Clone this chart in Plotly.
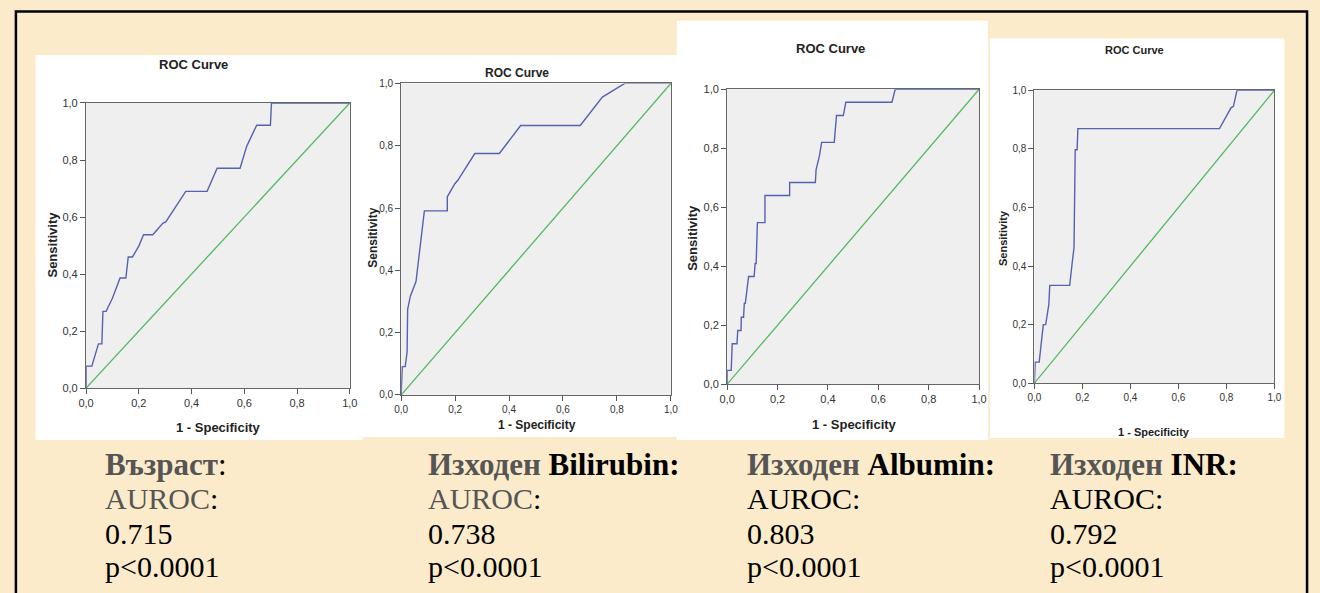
import plotly.graph_objects as go

# ---------------- data ----------------
fpr_age = [0.0, 0.0, 0.022, 0.047, 0.060, 0.064, 0.076, 0.100, 0.129, 0.151, 0.160, 0.176, 0.200,
           0.218, 0.253, 0.291, 0.303, 0.378, 0.459, 0.497, 0.584, 0.609, 0.647, 0.699, 0.703, 1.0]
tpr_age = [0.0, 0.077, 0.077, 0.155, 0.155, 0.269, 0.269, 0.315, 0.386, 0.386, 0.460, 0.460, 0.498,
           0.538, 0.538, 0.578, 0.584, 0.690, 0.690, 0.771, 0.771, 0.848, 0.922, 0.922, 1.0, 1.0]

fpr_bili = [0.0, 0.004, 0.015, 0.022, 0.024, 0.034, 0.055, 0.086, 0.171, 0.171, 0.199, 0.210,
            0.273, 0.364, 0.443, 0.664, 0.746, 0.829, 1.0]
tpr_bili = [0.0, 0.091, 0.091, 0.138, 0.275, 0.317, 0.364, 0.591, 0.591, 0.636, 0.678, 0.689,
            0.775, 0.775, 0.865, 0.865, 0.956, 1.0, 1.0]

fpr_alb = [0.0, 0.0, 0.016, 0.020, 0.039, 0.042, 0.055, 0.056, 0.065, 0.068, 0.072, 0.085, 0.107,
           0.111, 0.115, 0.120, 0.150, 0.150, 0.248, 0.248, 0.350, 0.353, 0.366, 0.375, 0.425,
           0.434, 0.461, 0.471, 0.654, 0.667, 1.0]
tpr_alb = [0.0, 0.047, 0.047, 0.137, 0.137, 0.182, 0.182, 0.227, 0.227, 0.274, 0.274, 0.365, 0.365,
           0.409, 0.409, 0.548, 0.548, 0.640, 0.640, 0.684, 0.684, 0.728, 0.773, 0.820, 0.820,
           0.911, 0.911, 0.956, 0.956, 1.0, 1.0]

fpr_inr = [0.0, 0.003, 0.020, 0.027, 0.037, 0.047, 0.060, 0.064, 0.147, 0.156, 0.165, 0.170,
           0.178, 0.181, 0.771, 0.819, 0.829, 0.844, 1.0]
tpr_inr = [0.0, 0.072, 0.072, 0.134, 0.200, 0.200, 0.268, 0.334, 0.334, 0.401, 0.463, 0.797,
           0.797, 0.869, 0.869, 0.940, 0.945, 1.0, 1.0]

ref_line = [0.0, 1.0]
tick_vals = [0.0, 0.2, 0.4, 0.6, 0.8, 1.0]

labels_cyr = ["Възраст", "Изходен", "Изходен", "Изходен"]
labels_lat = ["", "Bilirubin", "Albumin", "INR"]
auroc = ["0.715", "0.738", "0.803", "0.792"]
pvals = ["p<0.0001", "p<0.0001", "p<0.0001", "p<0.0001"]

curves = [(fpr_age, tpr_age), (fpr_bili, tpr_bili), (fpr_alb, tpr_alb), (fpr_inr, tpr_inr)]

# ---------------- layout geometry (pixels) ----------------
W, H = 1320, 593
def fx(v):
    return v / W
def fy(v):
    return 1 - v / H

panels = [
    dict(white=(28, 50, 359, 443), plot=(79, 99, 346, 390), title=(188, 60), xt=(213, 430), yt=(45, 243), fs=13, tfs=11),
    dict(white=(358, 50, 678, 440), plot=(398, 79, 671, 397), title=(515, 68), xt=(535, 428), yt=(370, 237), fs=12, tfs=10),
    dict(white=(677, 15, 992, 443), plot=(728, 85, 983, 386), title=(833, 43), xt=(857, 427), yt=(693, 237), fs=13, tfs=11),
    dict(white=(994, 33, 1292, 441), plot=(1039, 86, 1282, 385), title=(1140, 45), xt=(1160, 435), yt=(1007, 237), fs=11, tfs=10),
]
text_x = [96, 423, 746, 1053]
text_y = [468, 503, 538, 572]

BLUE = "#5562B0"
GREEN = "#52B95E"
SANS = "Liberation Sans"
SERIF = "Liberation Serif"

fig = go.Figure()
shapes = []
annotations = []
layout_axes = {}

for i, (p, (fx_, ty_)) in enumerate(zip(panels, curves)):
    n = "" if i == 0 else str(i + 1)
    xa, ya = "x" + n, "y" + n
    fig.add_trace(go.Scatter(x=ref_line, y=ref_line, mode="lines", xaxis=xa, yaxis=ya,
                             line=dict(color=GREEN, width=1.3), hoverinfo="skip", showlegend=False))
    fig.add_trace(go.Scatter(x=fx_, y=ty_, mode="lines", xaxis=xa, yaxis=ya,
                             line=dict(color=BLUE, width=1.4), showlegend=False))
    x0, y0, x1, y1 = p["plot"]
    common = dict(range=[0, 1], tickvals=tick_vals, tickformat=".1f", ticks="outside", ticklen=5,
                  tickcolor="#555", showline=True, linecolor="#666", linewidth=1.2, mirror=True,
                  showgrid=False, zeroline=False, tickfont=dict(family=SANS, size=p["tfs"], color="#333"),
                  fixedrange=True)
    layout_axes["xaxis" + n] = dict(common, domain=[fx(x0), fx(x1)], anchor=ya)
    layout_axes["yaxis" + n] = dict(common, domain=[fy(y1), fy(y0)], anchor=xa)
    wx0, wy0, wx1, wy1 = p["white"]
    shapes.append(dict(type="rect", xref="paper", yref="paper", x0=fx(wx0), x1=fx(wx1),
                       y0=fy(wy1), y1=fy(wy0), fillcolor="white", line=dict(width=0), layer="below"))
    shapes.append(dict(type="rect", xref="paper", yref="paper", x0=fx(x0), x1=fx(x1),
                       y0=fy(y1), y1=fy(y0), fillcolor="#EFEFEF", line=dict(width=0), layer="below"))
    annotations.append(dict(x=fx(p["title"][0]), y=fy(p["title"][1]), xref="paper", yref="paper",
                            text="<b>ROC Curve</b>", showarrow=False, xanchor="center", yanchor="middle",
                            font=dict(family=SANS, size=p["fs"], color="#222")))
    annotations.append(dict(x=fx(p["xt"][0]), y=fy(p["xt"][1]), xref="paper", yref="paper",
                            text="<b>1 - Specificity</b>", showarrow=False, xanchor="center", yanchor="middle",
                            font=dict(family=SANS, size=p["fs"], color="#222")))
    annotations.append(dict(x=fx(p["yt"][0]), y=fy(p["yt"][1]), xref="paper", yref="paper",
                            text="<b>Sensitivity</b>", showarrow=False, xanchor="center", yanchor="middle",
                            textangle=-90, font=dict(family=SANS, size=p["fs"], color="#222")))

    # text block below each chart
    if labels_lat[i]:
        head = ("<b><span style='color:#555555'>" + labels_cyr[i] + "</span> "
                "<span style='color:#000000'>" + labels_lat[i] + ":</span></b>")
    else:
        head = "<b><span style='color:#555555'>" + labels_cyr[i] + "</span></b><span style='color:#000'>:</span>"
    auroc_col = "#555555" if i < 2 else "#000000"
    lines = [head,
             "<span style='color:%s'>AUROC</span>:" % auroc_col,
             auroc[i],
             pvals[i]]
    for k, (ly, t) in enumerate(zip(text_y, lines)):
        annotations.append(dict(x=fx(text_x[i]), y=fy(ly), xref="paper", yref="paper", text=t,
                                showarrow=False, xanchor="left", yanchor="middle",
                                font=dict(family=SERIF, size=31 if k == 0 else 30, color="#000")))

# outer black frame
shapes.append(dict(type="rect", xref="paper", yref="paper", x0=fx(8), x1=fx(1315), y0=-0.05, y1=fy(5.5),
                   line=dict(color="black", width=2.5), fillcolor="rgba(0,0,0,0)", layer="above"))

fig.update_layout(width=W, height=H, margin=dict(l=0, r=0, t=0, b=0),
                  paper_bgcolor="#FCEBCA", plot_bgcolor="rgba(0,0,0,0)",
                  separators=", ", shapes=shapes, annotations=annotations, showlegend=False,
                  **layout_axes)

fig.write_html("out.html", config={"displayModeBar": False})
